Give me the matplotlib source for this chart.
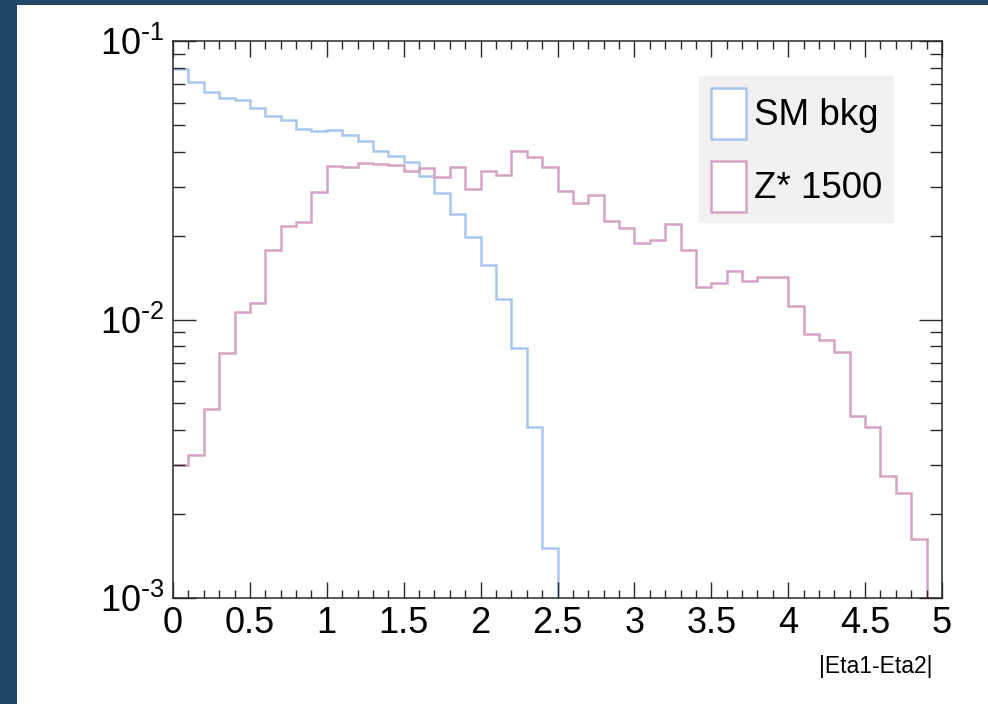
import numpy as np
import matplotlib
matplotlib.use("Agg")
import matplotlib.pyplot as plt
from matplotlib.patches import Patch, Rectangle
from matplotlib.ticker import MultipleLocator, LogLocator, NullFormatter

plt.rcParams["font.family"] = ["Liberation Sans", "DejaVu Sans"]
plt.rcParams["axes.unicode_minus"] = False

# |Eta1-Eta2| histograms, 50 bins of 0.1 from 0 to 5 (normalised)
bin_edges = np.linspace(0, 5, 51)

sm_bkg = [0.0791, 0.0713, 0.0658, 0.0624, 0.0612, 0.0573, 0.0538, 0.0520, 0.0484, 0.0475,
          0.0479, 0.0458, 0.0439, 0.0403, 0.0386, 0.0369, 0.0328, 0.0284, 0.0240, 0.0197,
          0.0157, 0.0118, 0.00793, 0.00412, 0.00151, 0, 0, 0, 0, 0,
          0, 0, 0, 0, 0, 0, 0, 0, 0, 0,
          0, 0, 0, 0, 0, 0, 0, 0, 0, 0]

zstar_1500 = [0.00301, 0.00327, 0.00477, 0.00756, 0.01064, 0.01149, 0.01777, 0.02166, 0.0224, 0.0286,
              0.0356, 0.0353, 0.0366, 0.0362, 0.0360, 0.0340, 0.0351, 0.0326, 0.0352, 0.0294,
              0.0340, 0.0329, 0.0404, 0.0384, 0.0354, 0.0289, 0.0261, 0.0280, 0.0226, 0.0213,
              0.0189, 0.0193, 0.0220, 0.0177, 0.0131, 0.0135, 0.01497, 0.0138, 0.01417, 0.01417,
              0.01118, 0.00885, 0.00844, 0.00766, 0.00450, 0.00412, 0.00275, 0.00239, 0.00163, 0]

labels = ["SM bkg", "Z* 1500"]
colors = ["#a9c6ef", "#d7a3c5"]
x_ticks = [0, 0.5, 1, 1.5, 2, 2.5, 3, 3.5, 4, 4.5, 5]
x_ticklabels = ["0", "0.5", "1", "1.5", "2", "2.5", "3", "3.5", "4", "4.5", "5"]
y_ticks = [1e-3, 1e-2, 1e-1]
y_ticklabels = [r"$\mathregular{10^{\text{-}3}}$", r"$\mathregular{10^{\text{-}2}}$",
                r"$\mathregular{10^{\text{-}1}}$"]

W, H = 988, 704
fig = plt.figure(figsize=(W / 100, H / 100), dpi=100)
fig.patch.set_facecolor("#1e4866")
# white slide area behind the plot
fig.patches.append(Rectangle((17 / W, 0), 1 - 17 / W, 1 - 5 / H, transform=fig.transFigure,
                             facecolor="white", edgecolor="none", zorder=-10))

ax = fig.add_axes([173 / W, 1 - 598 / H, (942 - 173) / W, (598 - 41) / H])
ax.set_facecolor("white")

for vals, c in zip([sm_bkg, zstar_1500], colors):
    ax.stairs(np.array(vals), bin_edges, baseline=None, color=c, linewidth=1.8)

ax.set_yscale("log")
ax.set_xlim(0, 5)
ax.set_ylim(1e-3, 1e-1)

ax.xaxis.set_minor_locator(MultipleLocator(0.1))
ax.set_xticks(x_ticks)
ax.set_xticklabels(x_ticklabels)
ax.set_yticks(y_ticks)
ax.set_yticklabels(y_ticklabels)
ax.yaxis.set_minor_locator(LogLocator(base=10, subs=np.arange(2, 10)))
ax.yaxis.set_minor_formatter(NullFormatter())

axis_col = "#2a2a2a"
for s in ax.spines.values():
    s.set_color(axis_col)
    s.set_linewidth(1.1)
ax.tick_params(axis="both", which="both", direction="in", top=True, right=True,
               colors=axis_col, labelcolor="black", width=1.0, labelsize=26, pad=6)
ax.tick_params(axis="x", which="major", length=11.5)
ax.tick_params(axis="x", which="minor", length=5.8)
ax.tick_params(axis="y", which="major", length=16.5)
ax.tick_params(axis="y", which="minor", length=8.6)

fig.text(932 / W, 1 - 666 / H, "|Eta1-Eta2|", ha="right", va="center", fontsize=16.5)

handles = [Patch(facecolor="white", edgecolor=c, linewidth=1.8, label=l)
           for c, l in zip(colors, labels)]
leg = ax.legend(handles=handles, loc="upper left", bbox_to_anchor=(699 / W, 1 - 76 / H),
                bbox_transform=fig.transFigure, fontsize=26.5, frameon=True, fancybox=False,
                facecolor="#f3f0f1", edgecolor="none", framealpha=1,
                handlelength=0.95, handleheight=1.75, handletextpad=0.22,
                labelspacing=0.6, borderpad=0.32, borderaxespad=0)

fig.savefig("out.png", dpi=100, facecolor=fig.get_facecolor())
